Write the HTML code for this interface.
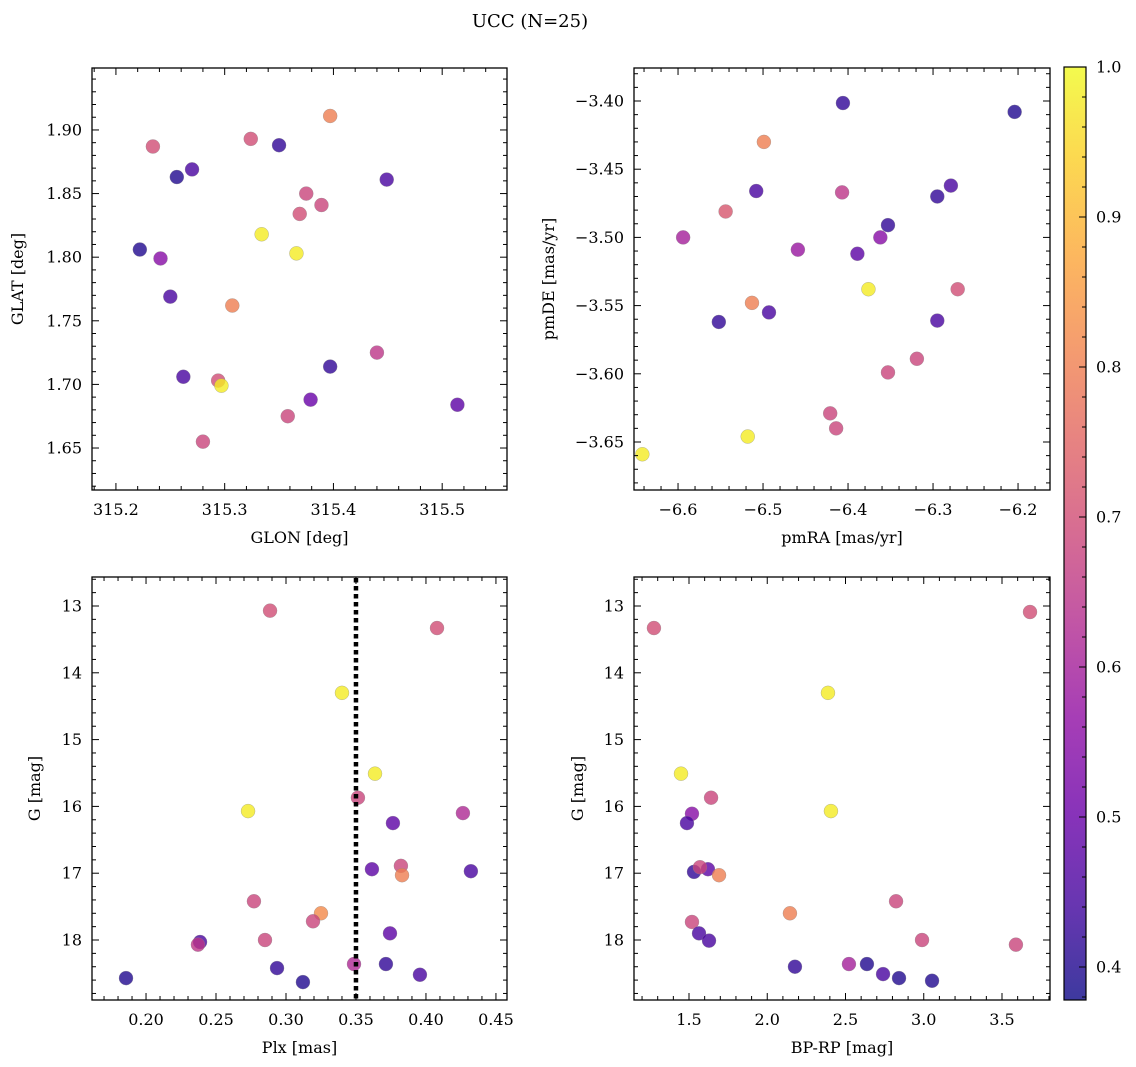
<!DOCTYPE html>
<html><head><meta charset="utf-8"><style>
html,body{margin:0;padding:0;background:#fff;}
svg{display:block;font-family:"DejaVu Serif","Liberation Serif",serif;}
</style></head><body>
<svg id="fig" width="1136" height="1067" viewBox="0 0 1136 1067" xmlns="http://www.w3.org/2000/svg">
<text x="530" y="27" font-size="18" text-anchor="middle">UCC (N=25)</text>
</svg>
<script>
// ---- data ----
const tlGlon=[315.397,315.324,315.350,315.234,315.256,315.270,315.449,315.375,315.389,315.369,315.334,315.366,315.222,315.241,315.250,315.307,315.262,315.440,315.397,315.294,315.297,315.379,315.514,315.358,315.280];
const tlGlat=[1.911,1.893,1.888,1.887,1.863,1.869,1.861,1.850,1.841,1.834,1.818,1.803,1.806,1.799,1.769,1.762,1.706,1.725,1.714,1.703,1.699,1.688,1.684,1.675,1.655];
const tlProb=[0.80,0.70,0.42,0.70,0.40,0.45,0.45,0.68,0.68,0.70,0.98,0.98,0.40,0.55,0.45,0.80,0.45,0.65,0.42,0.70,0.98,0.50,0.48,0.68,0.68];
const trPmra=[-6.406,-6.204,-6.499,-6.279,-6.295,-6.407,-6.508,-6.544,-6.594,-6.362,-6.353,-6.459,-6.389,-6.376,-6.271,-6.513,-6.295,-6.493,-6.552,-6.319,-6.353,-6.421,-6.414,-6.518,-6.642];
const trPmde=[-3.4015,-3.408,-3.430,-3.462,-3.470,-3.467,-3.466,-3.481,-3.500,-3.500,-3.491,-3.509,-3.512,-3.538,-3.538,-3.548,-3.561,-3.555,-3.562,-3.589,-3.599,-3.629,-3.640,-3.646,-3.659];
const trProb=[0.42,0.40,0.80,0.45,0.42,0.65,0.45,0.72,0.60,0.55,0.42,0.58,0.48,0.98,0.70,0.80,0.45,0.45,0.42,0.68,0.68,0.68,0.68,0.98,0.98];
const blPlx=[0.2886,0.4079,0.3400,0.3636,0.3514,0.2729,0.4264,0.3764,0.3614,0.3821,0.3829,0.4321,0.2771,0.3250,0.3193,0.3743,0.2850,0.2386,0.2371,0.3486,0.3714,0.2936,0.3957,0.1857,0.3121];
const blG=[13.07,13.33,14.30,15.51,15.87,16.07,16.10,16.25,16.94,16.89,17.03,16.97,17.42,17.60,17.72,17.90,18.00,18.03,18.07,18.36,18.36,18.42,18.52,18.57,18.63];
const blProb=[0.70,0.70,0.98,0.98,0.68,0.98,0.62,0.48,0.48,0.68,0.80,0.45,0.68,0.82,0.68,0.48,0.68,0.45,0.65,0.62,0.42,0.42,0.45,0.40,0.40];
const brBprp=[3.679,1.276,2.388,1.449,1.641,1.519,1.487,2.407,1.532,1.621,1.570,1.692,2.145,2.823,1.519,1.564,1.628,2.989,3.589,2.177,2.522,2.637,2.740,2.842,3.053];
const brG=[13.09,13.33,14.30,15.51,15.87,16.11,16.25,16.07,16.98,16.94,16.91,17.03,17.60,17.42,17.73,17.90,18.01,18.00,18.07,18.40,18.36,18.36,18.51,18.57,18.61];
const brProb=[0.70,0.70,0.98,0.98,0.68,0.55,0.45,0.98,0.42,0.48,0.68,0.80,0.80,0.68,0.68,0.45,0.45,0.68,0.68,0.42,0.60,0.40,0.45,0.40,0.40];
const plxLine=0.35;
const cbTicks=[0.4,0.5,0.6,0.7,0.8,0.9,1.0];

const NS="http://www.w3.org/2000/svg";
const svg=document.getElementById('fig');
function mk(tag,attrs,parent){const e=document.createElementNS(NS,tag);for(const k in attrs)e.setAttribute(k,attrs[k]);(parent||svg).appendChild(e);return e;}
const CMIN=0.378,CMAX=1.0;
const stops=[[0,[13,8,135]],[0.1,[65,4,157]],[0.2,[106,0,168]],[0.3,[143,13,164]],[0.4,[177,42,144]],[0.5,[204,71,120]],[0.6,[225,100,98]],[0.7,[242,132,75]],[0.8,[252,166,54]],[0.9,[252,206,37]],[1,[240,249,33]]];
function plasma(t){t=Math.max(0,Math.min(1,t));for(let i=1;i<stops.length;i++){if(t<=stops[i][0]){const a=stops[i-1],b=stops[i];const f=(t-a[0])/(b[0]-a[0]);const c=a[1].map((v,j)=>Math.round(v+(b[1][j]-v)*f));return `rgb(${c[0]},${c[1]},${c[2]})`;}}return 'rgb(240,249,33)';}
function cmap(v){return plasma((v-CMIN)/(CMAX-CMIN));}
function fmt(v,d){let s=v.toFixed(d);if(v<0)s='\u2212'+s.slice(1);return s;}

function panel(name,box,xr,yr,xMaj,xMin,xDec,yMaj,yMin,yDec,xlabel,ylabel,ylx,xs,ys,cs){
  const g=mk('g',{});
  
  
  const [L,T,R,B]=box;
  const sx=v=>L+(v-xr[0])/(xr[1]-xr[0])*(R-L);
  const sy=v=>T+(v-yr[1])/(yr[0]-yr[1])*(B-T);
  const pg=mk('g',{},g);
  
  
  for(let i=0;i<xs.length;i++){
    const c=mk('circle',{cx:sx(xs[i]),cy:sy(ys[i]),r:7,fill:cmap(cs[i]),'fill-opacity':0.8,stroke:'#888','stroke-width':0.5,'stroke-opacity':0.6},pg);
    
    
  }
  const fr=mk('rect',{x:L,y:T,width:R-L,height:B-T,fill:'none',stroke:'#000','stroke-width':1.3},g);
  
  
  const eps=1e-9;
  const s0=Math.ceil((Math.min(xr[0],xr[1])-eps)/xMin);
  for(let k=s0;k*xMin<=xr[1]+eps;k++){const v=k*xMin;const x=sx(v);const major=Math.abs(v/xMaj-Math.round(v/xMaj))<1e-6;const len=major?7:4;
    mk('line',{x1:x,y1:B,x2:x,y2:B-len,stroke:'#000','stroke-width':1},g);mk('line',{x1:x,y1:T,x2:x,y2:T+len,stroke:'#000','stroke-width':1},g);
    if(major){const t=mk('text',{x:x,y:B+25,'font-size':16,'text-anchor':'middle'},g);t.textContent=fmt(v,xDec);}}
  const lo=Math.min(yr[0],yr[1]),hi=Math.max(yr[0],yr[1]);
  for(let k=Math.ceil((lo-eps)/yMin);k*yMin<=hi+eps;k++){const v=k*yMin;const y=sy(v);const major=Math.abs(v/yMaj-Math.round(v/yMaj))<1e-6;const len=major?7:4;
    mk('line',{x1:L,y1:y,x2:L+len,y2:y,stroke:'#000','stroke-width':1},g);mk('line',{x1:R,y1:y,x2:R-len,y2:y,stroke:'#000','stroke-width':1},g);
    if(major){const t=mk('text',{x:L-10,y:y+5.5,'font-size':16,'text-anchor':'end'},g);t.textContent=fmt(v,yDec);}}
  const xl=mk('text',{x:(L+R)/2,y:B+53,'font-size':16,'text-anchor':'middle'},g);xl.textContent=xlabel;
  
  
  const yl=mk('text',{x:ylx,y:(T+B)/2,'font-size':16,'text-anchor':'middle',transform:`rotate(-90 ${ylx} ${(T+B)/2})`},g);yl.textContent=ylabel;
  
  
  return {sx,sy,g};
}
panel('glon-glat-panel',[92,68,507,490],[315.178,315.5596],[1.617,1.9487],0.1,0.02,1,0.05,0.01,2,'GLON [deg]','GLAT [deg]',23,tlGlon,tlGlat,tlProb);
panel('pm-panel',[634,68,1050,490],[-6.6518,-6.1624],[-3.6852,-3.3758],0.1,0.02,1,0.05,0.01,2,'pmRA [mas/yr]','pmDE [mas/yr]',554,trPmra,trPmde,trProb);
const bl=panel('plx-g-panel',[92,577,507,1000],[0.1614,0.4579],[18.898,12.566],0.05,0.01,2,1,0.2,0,'Plx [mas]','G [mag]',40,blPlx,blG,blProb);
const ln=mk('line',{x1:bl.sx(plxLine),y1:578,x2:bl.sx(plxLine),y2:999,stroke:'#000','stroke-width':4.5,'stroke-dasharray':'4.5 3.5'},bl.g);


panel('cmd-panel',[634,577,1050,1000],[1.1486,3.8067],[18.898,12.566],0.5,0.1,1,1,0.2,0,'BP-RP [mag]','G [mag]',583,brBprp,brG,brProb);

const cb=mk('g',{});


const defs=mk('defs',{},svg);
const lg=mk('linearGradient',{id:'cbg',x1:0,y1:1,x2:0,y2:0},defs);
for(let i=0;i<=20;i++){mk('stop',{offset:i/20,'stop-color':plasma(i/20),'stop-opacity':0.8},lg);}
const CT=67,CB=1000,CL=1064,CR=1086;
mk('rect',{x:CL,y:CT,width:CR-CL,height:CB-CT,fill:'url(#cbg)',stroke:'#000','stroke-width':1.2},cb);
const cy=v=>CB-(v-CMIN)/(CMAX-CMIN)*(CB-CT);
for(let k=38;k<=100;k+=2){const v=k/100;const major=k%10===0;const y=cy(v);mk('line',{x1:CR,y1:y,x2:CR-(major?7:4),y2:y,stroke:'#000','stroke-width':1},cb);}
cbTicks.forEach(v=>{const t=mk('text',{x:CR+10,y:cy(v)+5.5,'font-size':16},cb);t.textContent=v.toFixed(1);
  
  });
</script>
</body></html>
